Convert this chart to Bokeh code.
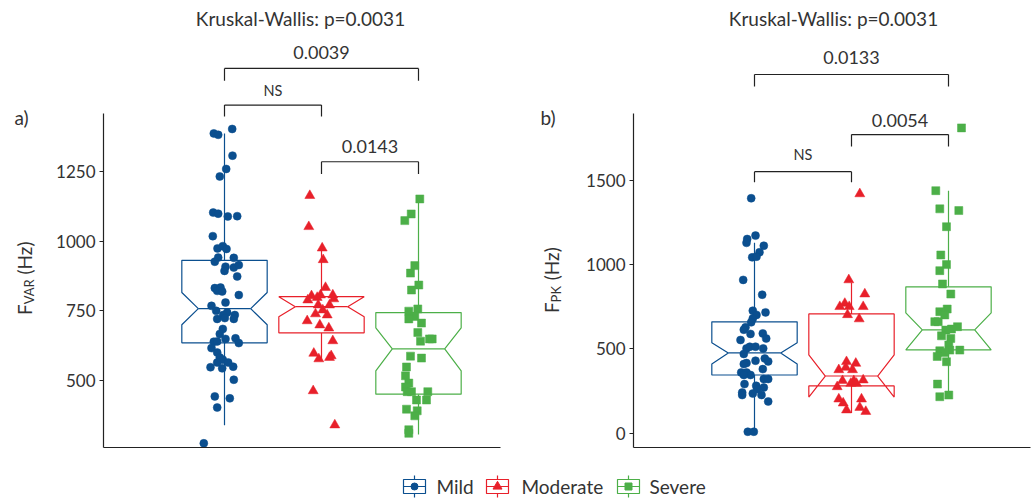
import math
from bokeh.plotting import figure
from bokeh.layouts import column, row
from bokeh.models import Range1d, FixedTicker, Label
from bokeh.embed import file_html
from bokeh.resources import INLINE
from bokeh.core.properties import value

FONT = "Lato"
TXT = "#333333"
AX = "#222222"

# ---------------- data ----------------
groups = ["Mild", "Moderate", "Severe"]
group_pos = [1, 2, 3]

# panel a) F_VAR (Hz)
var_mild = [1404, 1388, 1383, 1308, 1260, 1233, 1103, 1099, 1089, 1090, 1018, 974, 982, 972, 941,
            926, 940, 908, 893, 905, 914, 873, 831, 833, 821, 819, 806, 779, 767, 749, 743, 734,
            734, 720, 723, 720, 684, 666, 638, 639, 648, 650, 633, 615, 599, 581, 573, 563, 563,
            546, 542, 548, 501, 441, 434, 401, 272]
var_mild_jit = [7.7, -10.7, -6.3, 8, 1.7, -4.7, -11.3, -6.3, 3.3, 12.7, -11.7, -7, -1.7, 2, -6.3,
                -9.7, 9.3, 1, 0, 9.3, 14.3, 12.7, -9.7, -4, -7.3, -2.3, 14.3, 1, -13, -8.3, 2.7, 10.3,
                -1.3, -7.3, 0.3, 9.3, -1.7, -4.7, -10.7, -7.3, 1, 11, 14.3, -13, -7.3, -4.7, -1.7, -7.3,
                3.7, -14, -2.3, 8.7, 9.3, -9.7, 5.3, -7.3, -20.7]
var_mod = [1164, 1052, 975, 933, 833, 806, 803, 806, 797, 788, 792, 770, 770, 752, 738, 734, 713,
           698, 687, 641, 596, 587, 576, 581, 461, 338]
var_mod_jit = [-11.7, -12.7, 0.7, 1.7, 4, 11.3, -10, -1, -4.3, -13.7, 12.3, -3.3, 8, 1.3, -6, 5.7,
               -14.3, -1.7, 7.3, 11.3, -7.7, 9.7, -2.7, 8, -8.3, 13.3]
var_sev = [1152, 1098, 1074, 912, 885, 842, 824, 756, 748, 729, 720, 705, 671, 640, 648, 648, 586,
           579, 547, 515, 489, 475, 458, 458, 458, 428, 428, 395, 389, 371, 321, 308]
var_sev_jit = [1.3, -7.3, -13.7, -3.7, -8, 0.3, -7, -0.7, -9.7, -3.7, -9.7, 3, -0.7, 2, 11, 13.7,
               -8, 3, -12, -13, -9.7, -13, -11.3, -7, 9.3, -2, 8, -12, -1.3, -3.7, -9.7, -9.7]
var_q1 = [634, 670, 449]
var_notch_lo = [699, 728, 533]
var_median = [757, 764, 612]
var_notch_hi = [815, 800, 688]
var_q3 = [931, 800, 743]
var_whisk_lo = [337, 569, 304]
var_whisk_hi = [1388, 975, 1152]
var_ticks = [500, 750, 1000, 1250]
var_comparisons = [(1, 3, "0.0039"), (1, 2, "NS"), (2, 3, "0.0143")]

# panel b) F_PK (Hz)
pk_mild = [1395, 1153, 1173, 1130, 1113, 1074, 1044, 1048, 910, 822, 727, 717, 702, 681, 658, 628,
           614, 589, 592, 562, 553, 503, 513, 513, 503, 470, 443, 430, 426, 416, 410, 360, 360, 380,
           345, 345, 321, 321, 291, 281, 271, 262, 241, 226, 235, 226, 188, 8, 8]
pk_mild_jit = [-3.3, -7.3, 1, -8, 9.3, 5, -2.3, 2, -11.3, 7.7, -1.7, 11, 2, -1.7, -3.3, -9, -10.7,
               -4, 8.3, 11.7, -14, -8, -4.7, 1, 8.7, -10.7, 10.3, 1, 13.7, -8, -10.7, -13.3, -8, 8.3,
               -4, -10.7, 9.3, 13.7, -10, 1.7, 9.3, 2.7, -12.3, -12.3, -1.7, 7, 13.7, -6.7, -0.7]
pk_mod = [1421, 910, 826, 770, 751, 751, 751, 703, 678, 424, 414, 376, 390, 376, 311, 315, 311, 295,
          295, 275, 202, 202, 178, 152, 137, 128]
pk_mod_jit = [8.3, -2.7, 13.3, -6.7, -11.7, -2.3, 11.7, -4, 7.7, -5, 4.3, -12.7, -5.7, 1, -9, 11.7,
              2.3, -0.7, 5, -14.3, -12.7, 10, -8.3, 8.3, -5, 14.3]
pk_sev = [1813, 1440, 1332, 1322, 1226, 1058, 1001, 965, 886, 826, 737, 721, 702, 662, 662, 612, 618,
          632, 578, 562, 523, 489, 493, 493, 479, 455, 424, 291, 216, 226]
pk_sev_jit = [13, -12.7, -8.7, 10.3, -2, -7.7, -2, -8.7, -6, 2.3, -1.3, -8.7, -3.7, -13.7, -10.3,
              -2.7, 3, 9, -7, 2.3, 0.3, -8.7, 1.3, 11.3, -3.7, -11.3, -2, -11, -8.7, 0.3]
pk_q1 = [345, 280, 494]
pk_notch_lo = [411, 214, 494]
pk_median = [476, 339, 613]
pk_notch_hi = [536, 464, 714]
pk_q3 = [661, 708, 869]
pk_whisk_lo = [0, 119, 220]
pk_whisk_hi = [1130, 893, 1440]
pk_ticks = [0, 500, 1000, 1500]
pk_comparisons = [(1, 3, "0.0133"), (1, 2, "NS"), (2, 3, "0.0054")]

kw_text = "Kruskal-Wallis: p=0.0031"

# ---------------- style ----------------
colors = ["#0B4F8F", "#E8202A", "#4CAF48"]
markers = ["circle", "triangle", "square"]
msizes = [8, 10, 8]
JIT_PX = 97.0  # pixels per category step
BOX_W = 0.44
NOTCH_W = 0.27
X_RANGE = (1 - 121 / 97.0, 3 + 82 / 97.0)
FIG_H = 460
FRAME_BOTTOM = 447  # window y of frame bottom


def notched(c, q1, nlo, med, nhi, q3):
    w, nw = BOX_W, NOTCH_W
    xs = [c - w, c - w, c - nw, c - w, c - w, c + w, c + w, c + nw, c + w, c + w]
    ys = [q1, nlo, med, nhi, q3, q3, nhi, med, nlo, q1]
    return xs, ys


def add_label(p, frame_left, wx, wy, text, size, align="left"):
    p.add_layout(Label(x=wx - frame_left, y=FRAME_BOTTOM - wy, x_units="screen", y_units="screen",
                       text=text, text_font=FONT, text_font_size=size,
                       text_color=TXT, text_align=align, text_baseline="middle"))


def side_panel(width, letter, letter_x, parts, start_y, base_x):
    """Narrow figure left of a panel that carries the panel letter and the y-axis title."""
    s = figure(width=width, height=FIG_H, x_range=Range1d(0, width), y_range=Range1d(0, FIG_H),
               output_backend="svg", toolbar_location=None, x_axis_location=None,
               y_axis_location=None, min_border=0)
    s.grid.visible = False
    s.outline_line_color = None
    s.text(x=[letter_x], y=[FIG_H - 116.5], text=[letter], text_font=value(FONT),
           text_font_size="19px", text_color=TXT, text_align="left", text_baseline="middle")
    wy = start_y
    for txt, size, dx, length in parts:
        s.text(x=[base_x + dx], y=[FIG_H - wy], text=[txt], angle=math.pi / 2,
               text_font=value(FONT), text_font_size=size, text_color=TXT,
               text_align="left", text_baseline="alphabetic")
        wy -= length
    return s


def make_panel(width, border_left, border_right, frame_left_win, yr, axis_top, ticks, vals, jits,
               stats, comps, bracket_geo, title_wx):
    p = figure(width=width, height=FIG_H, x_range=Range1d(*X_RANGE), y_range=Range1d(*yr),
               output_backend="svg", toolbar_location=None,
               min_border_left=border_left, min_border_right=border_right,
               min_border_top=5, min_border_bottom=FIG_H - FRAME_BOTTOM)
    p.grid.visible = False
    p.outline_line_color = None

    p.xaxis.ticker = FixedTicker(ticks=[])
    p.xaxis.major_tick_out = 0
    p.xaxis.major_tick_in = 0
    p.xaxis.major_label_standoff = 0
    p.xaxis.major_label_text_font_size = "0px"
    p.xaxis.minor_tick_line_color = None
    p.xaxis.axis_line_color = AX
    p.xaxis.axis_line_width = 1.2

    p.yaxis.ticker = FixedTicker(ticks=ticks)
    p.yaxis.bounds = (yr[0], axis_top)
    p.yaxis.axis_line_color = AX
    p.yaxis.axis_line_width = 1.2
    p.yaxis.major_tick_line_color = AX
    p.yaxis.major_tick_out = 4
    p.yaxis.major_tick_in = 0
    p.yaxis.minor_tick_line_color = None
    p.yaxis.major_label_standoff = 4
    p.yaxis.major_label_text_font = FONT
    p.yaxis.major_label_text_font_size = "17px"
    p.yaxis.major_label_text_color = TXT

    q1, nlo, med, nhi, q3, wlo, whi = stats
    for i, c in enumerate(group_pos):
        col = colors[i]
        p.segment(x0=[c, c], y0=[q3[i], q1[i]], x1=[c, c], y1=[whi[i], wlo[i]],
                  line_color=col, line_width=1.2)
        xs, ys = notched(c, q1[i], nlo[i], med[i], nhi[i], q3[i])
        p.patch(xs, ys, fill_color="white", line_color=col, line_width=1.2)
        p.segment(x0=[c - NOTCH_W], y0=[med[i]], x1=[c + NOTCH_W], y1=[med[i]],
                  line_color=col, line_width=1.2)
    for i, c in enumerate(group_pos):
        xs = [c + j / JIT_PX for j in jits[i]]
        p.scatter(xs, vals[i], marker=markers[i], size=msizes[i], fill_color=colors[i],
                  line_color=colors[i], line_width=0.5)

    # significance brackets
    for (a, b, lab), (ytop, ydrop, ytext) in zip(comps, bracket_geo):
        p.segment(x0=[a, a, b], y0=[ytop, ytop, ytop], x1=[b, a, b], y1=[ytop, ydrop, ydrop],
                  line_color=AX, line_width=1.2)
        p.text(x=[(a + b) / 2], y=[ytext], text=[lab], text_font=value(FONT),
               text_font_size="14.5px" if lab == "NS" else "18px", text_color=TXT,
               text_align="center", text_baseline="middle")

    add_label(p, frame_left_win, title_wx, 17.7, kw_text, "19px", align="center")
    return p


# layout: [side a | panel a | side b | panel b]
sa = side_panel(45, "a)", 14, [("F", "19px", 0, 11), ("VAR", "13px", 4, 31), ("(Hz)", "19px", 0, 0)],
                322, 24)
p1 = make_panel(472, 58, 17, 103, (257, 1848.6), 1459, var_ticks,
                [var_mild, var_mod, var_sev], [var_mild_jit, var_mod_jit, var_sev_jit],
                (var_q1, var_notch_lo, var_median, var_notch_hi, var_q3, var_whisk_lo, var_whisk_hi),
                var_comparisons,
                [(1622, 1578, 1680), (1490, 1449, 1544), (1286, 1242, 1341)],
                300)
sb = side_panel(60, "b)", 23, [("F", "19px", 0, 11), ("PK", "13px", 4, 23), ("(Hz)", "19px", 0, 0)],
                320, 34)
p2 = make_panel(458, 56, 5, 633, (-85.6, 2540), 1898, pk_ticks,
                [pk_mild, pk_mod, pk_sev], [pk_mild_jit, pk_mod_jit, pk_sev_jit],
                (pk_q1, pk_notch_lo, pk_median, pk_notch_hi, pk_q3, pk_whisk_lo, pk_whisk_hi),
                pk_comparisons,
                [(2130, 2059, 2231), (1553, 1490, 1653), (1773, 1702, 1857)],
                833)

# ---------------- legend ----------------
leg = figure(width=1035, height=40, x_range=Range1d(0, 1035), y_range=Range1d(0, 40),
             output_backend="svg", toolbar_location=None, x_axis_location=None,
             y_axis_location=None, min_border=0)
leg.grid.visible = False
leg.outline_line_color = None
icon_x = [414, 497, 628]
text_x = [436, 521, 649]
for i in range(3):
    cx = icon_x[i]
    leg.segment(x0=[cx], y0=[3], x1=[cx], y1=[25], line_color=colors[i], line_width=1.2)
    leg.rect(x=[cx], y=[14], width=22, height=14, fill_color="white", line_color=colors[i],
             line_width=1.2)
    leg.segment(x0=[cx - 11], y0=[14], x1=[cx + 11], y1=[14], line_color=colors[i], line_width=1.2)
    leg.scatter([cx], [14], marker=markers[i], size=msizes[i] - 1, fill_color=colors[i],
                line_color=colors[i])
leg.text(x=text_x, y=[14, 14, 14], text=groups, text_font=value(FONT), text_font_size="19px",
         text_color=TXT, text_align="left", text_baseline="middle")

layout = column(row(sa, p1, sb, p2), leg)
open("out.html", "w").write(file_html(layout, INLINE))
